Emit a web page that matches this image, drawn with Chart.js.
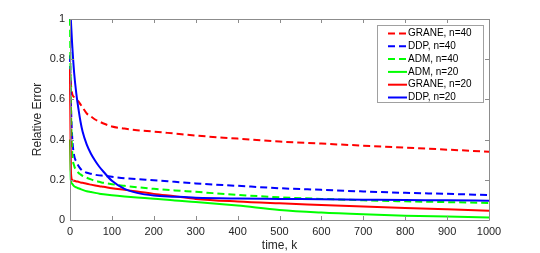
<!DOCTYPE html>
<html>
<head>
<meta charset="utf-8">
<script src="https://cdn.jsdelivr.net/npm/chart.js@4.4.1/dist/chart.umd.min.js"></script>
<style>
  html, body { margin: 0; padding: 0; background: #fff; }
  #wrap { width: 540px; height: 253px; }
</style>
</head>
<body>
<div id="wrap"><canvas id="c" width="540" height="253"></canvas></div>
<script>
// iteration index k
const kValues = [0, 2, 5, 10, 15, 20, 25, 30, 40, 50, 60, 70, 80, 100, 130, 160, 200, 250, 300, 400, 500, 600, 700, 800, 900, 1000];

const grane40 = [0.75, 0.68, 0.63, 0.61, 0.60, 0.59, 0.575, 0.56, 0.53, 0.515, 0.50, 0.49, 0.48, 0.465, 0.455, 0.447, 0.44, 0.43, 0.42, 0.405, 0.39, 0.38, 0.37, 0.36, 0.35, 0.34];
const ddp40 = [0.82, 0.60, 0.42, 0.32, 0.29, 0.27, 0.255, 0.245, 0.235, 0.23, 0.225, 0.222, 0.22, 0.215, 0.208, 0.203, 0.198, 0.19, 0.182, 0.17, 0.158, 0.15, 0.142, 0.135, 0.13, 0.124];
const adm40 = [1.0, 0.60, 0.35, 0.27, 0.25, 0.235, 0.227, 0.22, 0.21, 0.202, 0.195, 0.19, 0.185, 0.178, 0.17, 0.163, 0.155, 0.147, 0.14, 0.125, 0.113, 0.105, 0.098, 0.093, 0.089, 0.085];
const adm20 = [0.40, 0.20, 0.18, 0.168, 0.162, 0.158, 0.154, 0.15, 0.143, 0.139, 0.135, 0.131, 0.128, 0.123, 0.117, 0.112, 0.106, 0.097, 0.09, 0.072, 0.05, 0.037, 0.028, 0.021, 0.017, 0.013];
const grane20 = [0.75, 0.25, 0.20, 0.195, 0.192, 0.19, 0.187, 0.185, 0.18, 0.176, 0.172, 0.168, 0.165, 0.158, 0.15, 0.142, 0.13, 0.118, 0.105, 0.092, 0.083, 0.075, 0.067, 0.06, 0.053, 0.046];
const ddp20 = [null, 1.0, 0.88, 0.73, 0.63, 0.555, 0.49, 0.44, 0.375, 0.33, 0.295, 0.265, 0.24, 0.195, 0.155, 0.135, 0.122, 0.116, 0.111, 0.107, 0.105, 0.103, 0.101, 0.099, 0.098, 0.096];

const xTicks = [0, 100, 200, 300, 400, 500, 600, 700, 800, 900, 1000];
const yTicks = [0, 0.2, 0.4, 0.6, 0.8, 1];

const series = [
  { label: 'GRANE, n=40', data: grane40, color: '#ff0000', dash: [7, 4] },
  { label: 'DDP, n=40', data: ddp40, color: '#0000ff', dash: [7, 4] },
  { label: 'ADM, n=40', data: adm40, color: '#00ff00', dash: [7, 4] },
  { label: 'ADM, n=20', data: adm20, color: '#00ff00', dash: [] },
  { label: 'GRANE, n=20', data: grane20, color: '#ff0000', dash: [] },
  { label: 'DDP, n=20', data: ddp20, color: '#0000ff', dash: [] },
];

const xTitle = 'time, k';
const yTitle = 'Relative Error';

const FONT = 'Liberation Sans, Arial, Helvetica, sans-serif';
const AXIS_GRAY = '#8c8c8c';
const TEXT = '#262626';

// box + inward ticks like matlab, plus axis titles
const framePlugin = {
  id: 'frame',
  afterDatasetsDraw(chart) {
    const { ctx, chartArea: a, scales } = chart;
    ctx.save();
    ctx.strokeStyle = AXIS_GRAY;
    ctx.lineWidth = 1;
    ctx.beginPath();
    ctx.rect(Math.round(a.left) + 0.5, Math.round(a.top) + 0.5,
      Math.round(a.right - a.left), Math.round(a.bottom - a.top));
    const tl = 4;
    xTicks.forEach(v => {
      const x = Math.round(scales.x.getPixelForValue(v)) + 0.5;
      ctx.moveTo(x, a.bottom); ctx.lineTo(x, a.bottom - tl);
      ctx.moveTo(x, a.top); ctx.lineTo(x, a.top + tl);
    });
    yTicks.forEach(v => {
      const y = Math.round(scales.y.getPixelForValue(v)) + 0.5;
      ctx.moveTo(a.left, y); ctx.lineTo(a.left + tl, y);
      ctx.moveTo(a.right, y); ctx.lineTo(a.right - tl, y);
    });
    ctx.stroke();

    ctx.fillStyle = TEXT;
    ctx.font = '12px ' + FONT;
    ctx.textAlign = 'center';
    ctx.textBaseline = 'middle';
    ctx.fillText(xTitle, (a.left + a.right) / 2, 246);
    ctx.translate(38, (a.top + a.bottom) / 2);
    ctx.rotate(-Math.PI / 2);
    ctx.fillText(yTitle, 0, 0);
    ctx.restore();
  }
};

const legendPlugin = {
  id: 'boxLegend',
  afterDraw(chart) {
    const ctx = chart.ctx;
    const bx = 377.5, by = 25.5, bw = 106, bh = 77;
    ctx.save();
    ctx.fillStyle = '#fff';
    ctx.fillRect(bx, by, bw, bh);
    ctx.strokeStyle = '#a0a0a0';
    ctx.lineWidth = 1;
    ctx.strokeRect(bx, by, bw, bh);
    ctx.font = '10px ' + FONT;
    ctx.textBaseline = 'middle';
    ctx.textAlign = 'left';
    series.forEach((s, i) => {
      const y = 33.5 + i * 12.8;
      ctx.strokeStyle = s.color;
      ctx.lineWidth = 2;
      ctx.setLineDash(s.dash);
      ctx.beginPath();
      ctx.moveTo(388, y); ctx.lineTo(407, y);
      ctx.stroke();
      ctx.setLineDash([]);
      ctx.fillStyle = '#000';
      ctx.fillText(s.label, 408, y);
    });
    ctx.restore();
  }
};

function main() {
  const datasets = series.map((s, i) => ({
    label: s.label,
    data: kValues.map((k, j) => ({ x: k, y: s.data[j] })),
    borderColor: s.color,
    backgroundColor: s.color,
    borderDash: s.dash,
    borderWidth: 2,
    pointRadius: 0,
    fill: false,
    cubicInterpolationMode: 'monotone',
    order: series.length - i,
    clip: 3,
  }));

  new Chart(document.getElementById('c'), {
    type: 'line',
    data: { datasets },
    options: {
      responsive: false,
      animation: false,
      layout: { padding: { top: 19, right: 51, left: 0, bottom: 0 } },
      plugins: { legend: { display: false }, tooltip: { enabled: false } },
      scales: {
        x: {
          type: 'linear', min: 0, max: 1000,
          afterFit(scale) { scale.height = 33; },
          afterBuildTicks(scale) { scale.ticks = xTicks.map(v => ({ value: v })); },
          grid: { display: false, drawTicks: false },
          border: { display: false },
          ticks: { color: TEXT, font: { family: FONT, size: 11 }, padding: 5, maxRotation: 0, callback: v => String(v) },
        },
        y: {
          type: 'linear', min: 0, max: 1,
          afterFit(scale) { scale.width = 70; },
          afterBuildTicks(scale) { scale.ticks = yTicks.map(v => ({ value: v })); },
          grid: { display: false, drawTicks: false },
          border: { display: false },
          ticks: { color: TEXT, font: { family: FONT, size: 11 }, padding: 5, callback: v => String(+v.toFixed(1)) },
        },
      },
    },
    plugins: [framePlugin, legendPlugin],
  });
}

main();
</script>
</body>
</html>
